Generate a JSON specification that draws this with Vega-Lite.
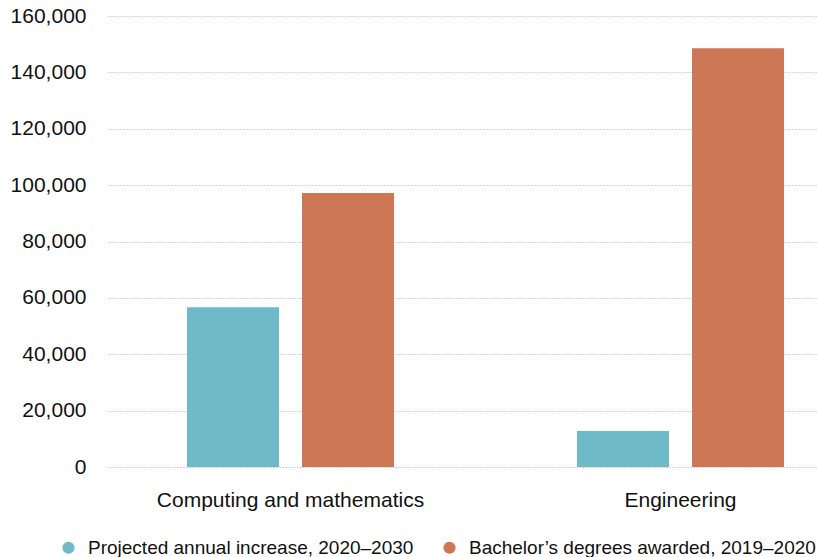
{
  "$schema": "https://vega.github.io/schema/vega-lite/v6.json",
  "width": 709,
  "height": 451,
  "autosize": {"type": "none"},
  "padding": {"left": 108, "top": 16, "right": 0, "bottom": 90},
  "background": "white",
  "config": {
    "view": {"stroke": null},
    "font": "Liberation Sans"
  },
  "data": {
    "values": [
      {"field": "Computing and mathematics", "series": "Projected annual increase, 2020–2030", "value": 56700},
      {"field": "Computing and mathematics", "series": "Bachelor’s degrees awarded, 2019–2020", "value": 97200},
      {"field": "Engineering", "series": "Projected annual increase, 2020–2030", "value": 12800},
      {"field": "Engineering", "series": "Bachelor’s degrees awarded, 2019–2020", "value": 148600}
    ]
  },
  "mark": {"type": "bar"},
  "encoding": {
    "x": {
      "field": "field",
      "type": "nominal",
      "sort": ["Computing and mathematics", "Engineering"],
      "scale": {"range": [0, 755], "paddingInner": 0.064, "paddingOuter": 0},
      "axis": {
        "title": null,
        "labelAngle": 0,
        "ticks": false,
        "domain": false,
        "labelFontSize": 21,
        "labelColor": "#111",
        "labelPadding": 22,
        "labelLimit": 600
      }
    },
    "xOffset": {
      "field": "series",
      "type": "nominal",
      "sort": ["Projected annual increase, 2020–2030", "Bachelor’s degrees awarded, 2019–2020"],
      "scale": {"paddingInner": 0.2, "paddingOuter": 0.687}
    },
    "y": {
      "field": "value",
      "type": "quantitative",
      "scale": {"domain": [0, 160000], "nice": false},
      "axis": {
        "title": null,
        "values": [0, 20000, 40000, 60000, 80000, 100000, 120000, 140000, 160000],
        "format": ",d",
        "ticks": false,
        "domain": false,
        "labelFontSize": 21,
        "labelColor": "#111",
        "labelPadding": 22,
        "gridColor": "#aaa",
        "gridDash": [1, 2],
        "gridWidth": 1
      }
    },
    "color": {
      "field": "series",
      "type": "nominal",
      "sort": ["Projected annual increase, 2020–2030", "Bachelor’s degrees awarded, 2019–2020"],
      "scale": {"range": ["#6fbac8", "#cd7755"]},
      "legend": {
        "title": null,
        "orient": "none",
        "direction": "horizontal",
        "legendX": -49,
        "legendY": 522,
        "symbolType": "circle",
        "symbolSize": 150,
        "symbolStrokeWidth": 0,
        "labelFontSize": 19,
        "labelColor": "#111",
        "labelOffset": 10,
        "columnPadding": 26,
        "labelLimit": 500
      }
    }
  }
}
